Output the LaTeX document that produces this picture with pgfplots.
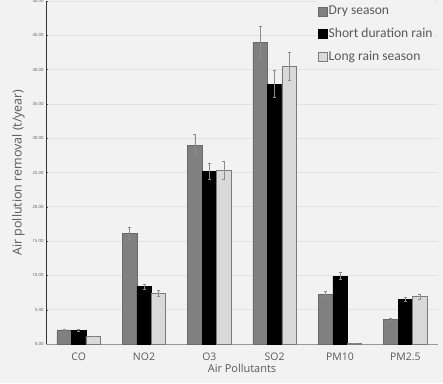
\documentclass[border=0pt]{standalone}
\usepackage{pgfplots}
\pgfplotsset{compat=1.18}
\usepackage{fontspec}
\setmainfont{Open Sans}
\newfontfamily\legfont{Carlito}
\definecolor{bg}{HTML}{F2F2F2}
\definecolor{grid}{HTML}{E2E2E2}
\definecolor{dry}{HTML}{808080}
\definecolor{dryedge}{HTML}{6A6A6A}
\definecolor{longc}{HTML}{D9D9D9}
\definecolor{longedge}{HTML}{7A7A7A}
\definecolor{txt}{HTML}{595959}
\definecolor{errc}{HTML}{8C8C8C}

\pgfplotstableread{
x val err
0 2.05 0.10
1 16.1 0.85
2 29.0 1.55
3 44.0 2.30
4 7.25 0.40
5 3.60 0.20
}\dry
\pgfplotstableread{
x val err
0 2.00 0.10
1 8.35 0.40
2 25.2 1.20
3 37.9 2.00
4 9.90 0.50
5 6.50 0.30
}\short
\pgfplotstableread{
x val err
0 1.12 0.05
1 7.40 0.40
2 25.3 1.30
3 40.5 2.00
4 0.10 0.00
5 6.90 0.35
}\longr

\begin{document}
\begin{tikzpicture}[x=1bp,y=1bp]
\fill[bg] (0,0) rectangle (443,383);
\useasboundingbox (0,0) rectangle (443,383);
\begin{axis}[
  at={(46bp,39bp)}, anchor=south west,
  scale only axis, width=392bp, height=343bp,
  ybar=0pt, bar width=0.222,
  xmin=-0.5, xmax=5.5, ymin=0, ymax=50,
  xtick=data, xticklabels={CO,NO2,O3,SO2,PM10,PM2.5},
  ytick={0,5,...,50},
  yticklabel={\pgfmathprintnumber[fixed,fixed zerofill,precision=2]{\tick}},
  /pgf/number format/assume math mode=true,
  ticklabel style={text=txt},
  yticklabel style={font=\fontsize{4.3}{5}\selectfont, xshift=1bp},
  xticklabel style={font=\fontsize{10.5}{12}\selectfont, yshift=-3bp},
  major tick length=2bp,
  tick style={draw=txt, line width=0.4bp},
  xtick style={draw=none},
  ymajorgrids, grid style={draw=grid, line width=0.8bp},
  axis x line*=bottom, axis y line*=left,
  x axis line style={draw=gray!80, line width=1bp, -},
  y axis line style={draw=black!80, line width=0.8bp, -},
  xlabel={Air Pollutants}, ylabel={Air pollution removal (t/year)},
  xlabel style={font=\fontsize{11}{13}\selectfont, text=txt, yshift=3bp},
  ylabel style={font=\fontsize{12.5}{14}\selectfont, text=txt, yshift=1bp},
  legend style={at={(0.690,1.0)}, anchor=north west, fill=bg, draw=none,
    font=\legfont\fontsize{13.6}{15}\selectfont, text=txt,
    row sep=8bp, inner xsep=1bp, inner ysep=3bp,
    nodes={inner xsep=1.5bp}},
  legend cell align=left,
  legend image code/.code={\draw[#1, line width=0.5bp] (0bp,-4.5bp) rectangle (9bp,4.5bp);},
  error bars/y dir=both, error bars/y explicit,
  error bars/error bar style={draw=errc, line width=0.6bp},
  error bars/error mark options={draw=errc, rotate=90, mark size=1.5bp, line width=0.6bp},
]
\addplot[fill=dry, draw=dryedge, line width=0.5bp] table[x=x, y=val, y error=err]{\dry};
\addlegendentry{Dry season}
\addplot[fill=black, draw=black, line width=0.5bp] table[x=x, y=val, y error=err]{\short};
\addlegendentry{Short duration rain}
\addplot[fill=longc, draw=longedge, line width=0.6bp] table[x=x, y=val, y error=err]{\longr};
\addlegendentry{Long rain season}
\end{axis}
\end{tikzpicture}
\end{document}
